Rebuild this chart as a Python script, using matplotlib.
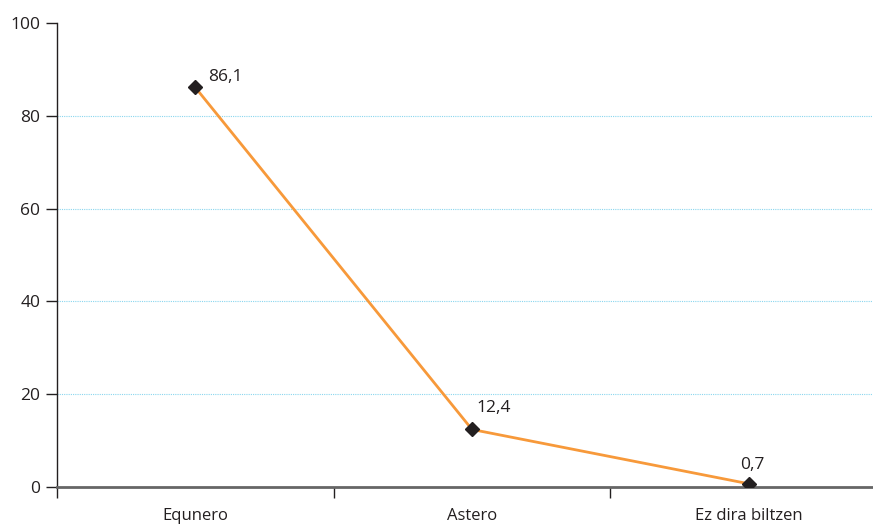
import matplotlib.pyplot as plt
import numpy as np

categories = ["Equnero", "Astero", "Ez dira biltzen"]
values = [86.1, 12.4, 0.7]
value_labels = ["86,1", "12,4", "0,7"]
yticks = [0, 20, 40, 60, 80, 100]
gridlines = [20, 40, 60, 80]

plt.rcParams['font.family'] = ['Open Sans', 'DejaVu Sans']

fig = plt.figure(figsize=(8.73, 5.24), dpi=100)
ax = fig.add_axes([57 / 873, 1 - 487 / 524, 830 / 873, 464 / 524])

x = np.arange(len(categories))
ax.plot(x, values, color="#F7993A", linewidth=2, zorder=3)
ax.plot(x, values, linestyle="none", marker="D", markersize=7,
        color="#231F20", zorder=4)

offsets = [(9, 2), (3.5, 10), (-6, 8)]
for xi, v, lab, off in zip(x, values, value_labels, offsets):
    ax.annotate(lab, (xi, v), xytext=off, textcoords="offset points",
                fontsize=12.5, color="#231F20", ha="left", va="bottom")

ax.set_xlim(-0.5, 2.5)
ax.set_ylim(0, 100)
ax.set_yticks(yticks)
ax.set_yticklabels([str(t) for t in yticks], fontsize=12.5, color="#231F20")
for t in gridlines:
    ax.axhline(t, color="#8AD6EE", linestyle=(0, (1, 1)), linewidth=0.8, zorder=1)

ax.set_xticks(x)
ax.set_xticklabels(categories, fontsize=12, color="#231F20")
ax.set_xticks([-0.5, 0.5, 1.5, 2.5], minor=True)
ax.tick_params(axis="x", which="major", length=0, pad=15)
ax.tick_params(axis="x", which="minor", length=8, width=1, color="#231F20", direction="out")
ax.tick_params(axis="y", length=8, width=1, color="#231F20", pad=4)

for s in ["top", "right"]:
    ax.spines[s].set_visible(False)
ax.spines["left"].set_color("#231F20")
ax.spines["left"].set_linewidth(1)
ax.spines["bottom"].set_color("#666666")
ax.spines["bottom"].set_linewidth(2)

fig.savefig("out.png", dpi=100)
